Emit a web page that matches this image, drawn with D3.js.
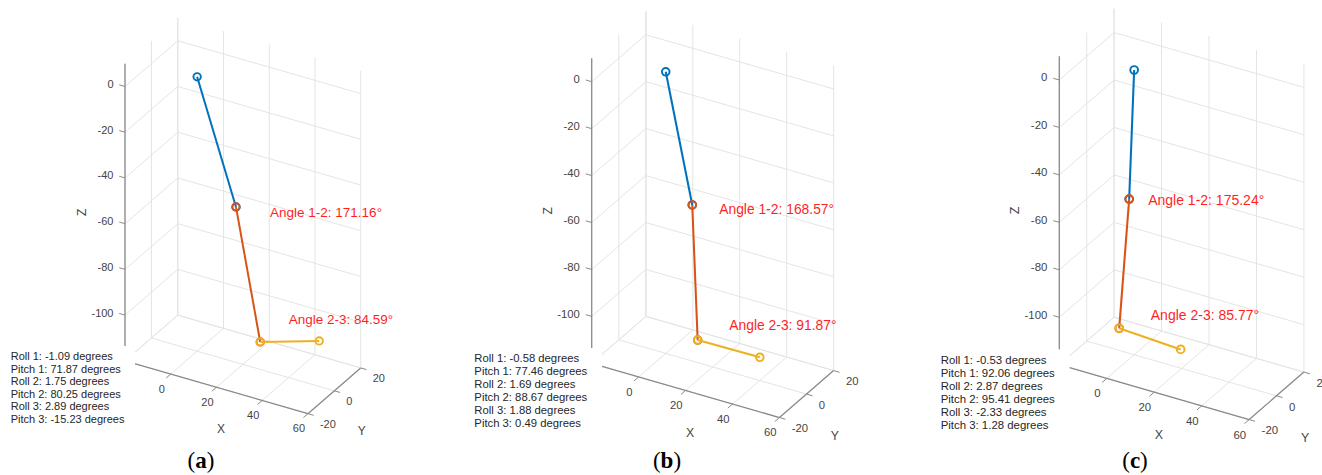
<!DOCTYPE html>
<html><head><meta charset="utf-8">
<script src="https://cdn.jsdelivr.net/npm/d3@7"></script>
<style>html,body{margin:0;padding:0;background:#fff;} svg{display:block;}</style>
</head><body>
<svg id="chart" width="1322" height="475"></svg>
<script>
// ---------------- data ----------------
const panelLetters = ["a", "b", "c"];
const xTicks = [-20, 0, 20, 40, 60];
const yTicks = [-20, 0, 20];
const zTicks = [-120, -100, -80, -60, -40, -20, 0];
const xDomain = [-20, 60];
const yDomain = [-20, 20];
const zDomain = [-120, 10];
// joint coordinates: start, joint 1-2, joint 2-3, end
const jointX = [[0, 17.0, 27.6, 53.4], [0, 11.3, 13.6, 40.1], [0, -2.1, -6.3, 19.6]];
const jointY = [[0, 0, 0, 0], [0, 0, 0, 0], [0, 0, 0, 0]];
const jointZ = [[0, -52.0, -108.0, -100.1], [0, -53.5, -110.4, -110.1], [0, -55.0, -110.7, -112.1]];
const angle12 = [171.16, 168.57, 175.24];
const angle23 = [84.59, 91.87, 85.77];
const roll1 = [-1.09, -0.58, -0.53];
const pitch1 = [71.87, 77.46, 92.06];
const roll2 = [1.75, 1.69, 2.87];
const pitch2 = [80.25, 88.67, 95.41];
const roll3 = [2.89, 1.88, -2.33];
const pitch3 = [-15.23, 0.49, 1.28];

// ---------------- layout / style ----------------
const segmentColors = ["#0072BD", "#D95319", "#EDB120"];
const layout = [
  {ax: 125.0, ay: 86.5, s: 2.64, letterX: 201, a12: [31.9, 0, -50.0], a23: [40.1, 0, -94.4]},
  {ax: 591.7, ay: 81.7, s: 2.71, letterX: 667, a12: [22.8, 0, -51.9], a23: [27.1, 0, -100.0]},
  {ax: 1059.3, ay: 80.0, s: 2.74, letterX: 1135, a12: [5.9, 0, -53.1], a23: [7.0, 0, -101.2]}
];
const az = 30 * Math.PI / 180, el = 30 * Math.PI / 180;
const cxv = [Math.cos(az), Math.sin(az) * Math.sin(el)];
const cyv = [Math.sin(az), -Math.cos(az) * Math.sin(el)];
const czv = [0, -Math.cos(el)];
const FONT = "'Liberation Sans', Arial, Helvetica, sans-serif";
const GRID = "#e4e4e4", AXIS = "#8a8a8a", TXT = "#444444";

const svg = d3.select("#chart");

layout.forEach((L, pi) => {
  const s = L.s, k = s / 2.64;
  const xs = d3.scaleLinear().domain(xDomain).range([0, (xDomain[1] - xDomain[0]) * s]);
  const ys = d3.scaleLinear().domain(yDomain).range([0, (yDomain[1] - yDomain[0]) * s]);
  const zs = d3.scaleLinear().domain([0, 10]).range([0, 10 * s]);
  const P = (x, y, z) => {
    const u = xs(x), v = ys(y), w = zs(z);
    return [L.ax + u * cxv[0] + v * cyv[0] + w * czv[0],
            L.ay + u * cxv[1] + v * cyv[1] + w * czv[1]];
  };
  const g = svg.append("g");
  const line = d3.line();
  const [x0, x1] = xDomain, [y0, y1] = yDomain, [z0, z1] = zDomain;

  // text box geometry (white box hides the lower-left corner of the axes)
  const tx = L.ax - 114.3 * k, ty = L.ay + 269.5 * k, lh = 12.5 * k;
  const box = {x0: tx - 6 * k, y0: ty - 10 * k, x1: L.ax + 10 * k, y1: ty - 10 * k + lh * 6 + 10 * k};
  const hidden = (x, y) => x >= box.x0 && x <= box.x1 && y >= box.y0 && y <= box.y1;

  // grid lines
  const grid = [];
  xTicks.forEach(x => { grid.push([P(x, y0, z0), P(x, y1, z0)]); grid.push([P(x, y1, z0), P(x, y1, z1)]); });
  yTicks.forEach(y => { grid.push([P(x0, y, z0), P(x1, y, z0)]); grid.push([P(x0, y, z0), P(x0, y, z1)]); });
  zTicks.forEach(z => { grid.push([P(x0, y1, z), P(x1, y1, z)]); grid.push([P(x0, y0, z), P(x0, y1, z)]); });
  g.selectAll("path.grid").data(grid).join("path").attr("class", "grid")
    .attr("d", line).attr("stroke", GRID).attr("stroke-width", 1).attr("fill", "none");

  // axes
  const unit = v => { const n = Math.hypot(v[0], v[1]); return [v[0] / n, v[1] / n]; };
  const ex = unit(cxv), ey = unit(cyv);
  const tl = 6 * k;
  const axesG = g.append("g").attr("stroke", AXIS).attr("stroke-width", 1.3).attr("fill", "none");
  axesG.append("path").attr("d", line([P(x0, y0, z0), P(x0, y0, z1)]));
  axesG.append("path").attr("d", line([P(x0, y0, z0), P(x1, y0, z0)]));
  axesG.append("path").attr("d", line([P(x1, y0, z0), P(x1, y1, z0)]));
  const tickG = g.append("g").attr("stroke", AXIS).attr("stroke-width", 1).attr("fill", "none");
  const labG = g.append("g").attr("fill", TXT).attr("font-family", FONT).attr("font-size", 11 * k);
  zTicks.forEach(z => {
    const p = P(x0, y0, z);
    tickG.append("path").attr("d", line([p, [p[0] - ex[0] * tl, p[1] - ex[1] * tl]]));
    const lx = p[0] - 11.5 * k, ly = p[1] - 2.5 * k;
    if (!hidden(lx - 5, ly)) labG.append("text").attr("x", lx).attr("y", ly)
      .attr("text-anchor", "end").attr("dominant-baseline", "central").text(String(z));
  });
  xTicks.forEach(x => {
    const p = P(x, y0, z0);
    tickG.append("path").attr("d", line([p, [p[0] - ey[0] * tl, p[1] - ey[1] * tl]]));
    const lx = p[0] - 9 * k, ly = p[1] + 14.5 * k;
    if (!hidden(lx, ly)) labG.append("text").attr("x", lx).attr("y", ly)
      .attr("text-anchor", "middle").attr("dominant-baseline", "central").text(String(x));
  });
  yTicks.forEach(y => {
    const p = P(x1, y, z0);
    tickG.append("path").attr("d", line([p, [p[0] + ex[0] * tl, p[1] + ex[1] * tl]]));
    labG.append("text").attr("x", p[0] + 12 * k).attr("y", p[1] + 10.5 * k)
      .attr("text-anchor", "start").attr("dominant-baseline", "central").text(String(y));
  });
  // axis titles
  const xm = P((x0 + x1) / 2, y0, z0), ym = P(x1, (y0 + y1) / 2, z0), zm = P(x0, y0, (z0 + z1) / 2);
  const titleG = g.append("g").attr("fill", TXT).attr("font-family", FONT).attr("font-size", 12 * k)
    .attr("text-anchor", "middle").attr("dominant-baseline", "central");
  titleG.append("text").attr("x", xm[0] + 4.5 * k).attr("y", xm[1] + 41.5 * k).text("X");
  titleG.append("text").attr("x", ym[0] + 27.5 * k).attr("y", ym[1] + 40.5 * k).text("Y");
  titleG.append("text").attr("transform", `translate(${L.ax - 43 * k},${zm[1]}) rotate(-90)`).text("Z");

  // segments
  const pts = d3.range(4).map(i => P(jointX[pi][i], jointY[pi][i], jointZ[pi][i]));
  [0, 1, 2].forEach(si => {
    const seg = [pts[si], pts[si + 1]];
    g.append("path").attr("d", line(seg)).attr("stroke", segmentColors[si])
      .attr("stroke-width", 2 * k).attr("fill", "none");
    g.selectAll(null).data(seg).join("circle")
      .attr("cx", d => d[0]).attr("cy", d => d[1]).attr("r", 3.7 * k)
      .attr("fill", "none").attr("stroke", segmentColors[si]).attr("stroke-width", 1.9 * k);
  });

  // angle annotations
  const a12 = P(...L.a12), a23 = P(...L.a23);
  const angG = g.append("g").attr("fill", "#ff1f1f").attr("font-family", FONT).attr("font-size", 13.5 * k)
    .attr("dominant-baseline", "central");
  angG.append("text").attr("x", a12[0]).attr("y", a12[1]).text(`Angle 1-2: ${angle12[pi].toFixed(2)}°`);
  angG.append("text").attr("x", a23[0]).attr("y", a23[1]).text(`Angle 2-3: ${angle23[pi].toFixed(2)}°`);

  // roll/pitch text box
  const lines = [
    `Roll 1: ${roll1[pi].toFixed(2)} degrees`,
    `Pitch 1: ${pitch1[pi].toFixed(2)} degrees`,
    `Roll 2: ${roll2[pi].toFixed(2)} degrees`,
    `Pitch 2: ${pitch2[pi].toFixed(2)} degrees`,
    `Roll 3: ${roll3[pi].toFixed(2)} degrees`,
    `Pitch 3: ${pitch3[pi].toFixed(2)} degrees`
  ];
  g.append("rect").attr("x", box.x0).attr("y", box.y0)
    .attr("width", box.x1 - box.x0).attr("height", box.y1 - box.y0).attr("fill", "#fff");
  g.append("g").attr("fill", "#262626").attr("font-family", FONT).attr("font-size", 11 * k)
    .attr("dominant-baseline", "central")
    .selectAll("text").data(lines).join("text")
    .attr("x", tx).attr("y", (d, i) => ty + i * lh).text(d => d);

  // panel letter
  const lt = svg.append("text").attr("x", L.letterX).attr("y", 468).attr("text-anchor", "middle")
    .attr("font-family", "'Liberation Serif', 'Times New Roman', serif").attr("font-size", 23).attr("fill", "#000");
  lt.append("tspan").text("(");
  lt.append("tspan").attr("font-weight", "bold").text(panelLetters[pi]);
  lt.append("tspan").text(")");
});
</script>
</body></html>
